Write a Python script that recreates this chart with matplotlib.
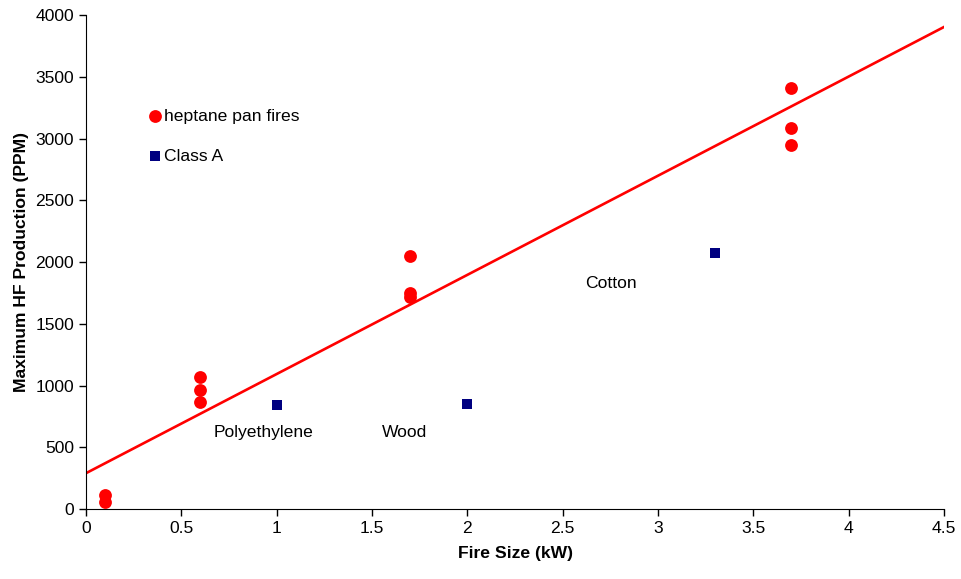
import numpy as np
import matplotlib.pyplot as plt
from matplotlib.ticker import FuncFormatter

plt.rcParams['font.family'] = ['Liberation Sans', 'DejaVu Sans']

# heptane pan fires
hep_x = [0.1, 0.1, 0.6, 0.6, 0.6, 1.7, 1.7, 1.7, 3.7, 3.7, 3.7]
hep_y = [110, 60, 1069, 964, 866, 2049, 1749, 1717, 3409, 3085, 2947]

# class A fires
cls_x = [1.0, 2.0, 3.3]
cls_y = [842, 850, 2073]
cls_names = ['Polyethylene', 'Wood', 'Cotton']
name_pos = [(0.67, 620), (1.55, 620), (2.62, 1830)]

# trend line
trend_b = 290
trend_m = 803

fs = 12.6

fig = plt.figure(figsize=(9.62, 5.79), dpi=100)
ax = fig.add_axes([0.0894, 0.1209, 0.8919, 0.8531])

ax.scatter(hep_x, hep_y, s=85, color='#ff0000', marker='o', zorder=3, linewidths=0)
ax.scatter(cls_x, cls_y, s=60, color='#000080', marker='s', zorder=3, linewidths=0)

xx = np.array([0, 4.5])
ax.plot(xx, trend_b + trend_m * xx, color='#ff0000', lw=1.9, zorder=2)

# in-plot legend (drawn as data like the original)
ax.scatter([0.36], [3182], s=85, color='#ff0000', marker='o', linewidths=0)
ax.text(0.41, 3182, 'heptane pan fires', fontsize=fs, va='center')
ax.scatter([0.36], [2858], s=60, color='#000080', marker='s', linewidths=0)
ax.text(0.41, 2858, 'Class A', fontsize=fs, va='center')

for name, (tx, ty) in zip(cls_names, name_pos):
    ax.text(tx, ty, name, fontsize=fs, va='center')

ax.set_xlim(0, 4.5)
ax.set_ylim(0, 4000)
ax.set_xticks(np.arange(0, 4.51, 0.5))
ax.set_yticks(np.arange(0, 4001, 500))
ax.xaxis.set_major_formatter(FuncFormatter(lambda v, p: f'{v:g}'))
ax.tick_params(labelsize=fs, direction='out', length=5, width=1)
ax.spines['top'].set_visible(False)
ax.spines['right'].set_visible(False)

ax.set_xlabel('Fire Size (kW)', fontsize=fs, fontweight='bold', labelpad=7)
ax.set_ylabel('Maximum HF Production (PPM)', fontsize=fs, fontweight='bold', labelpad=5)

plt.savefig('out.png', dpi=100)
